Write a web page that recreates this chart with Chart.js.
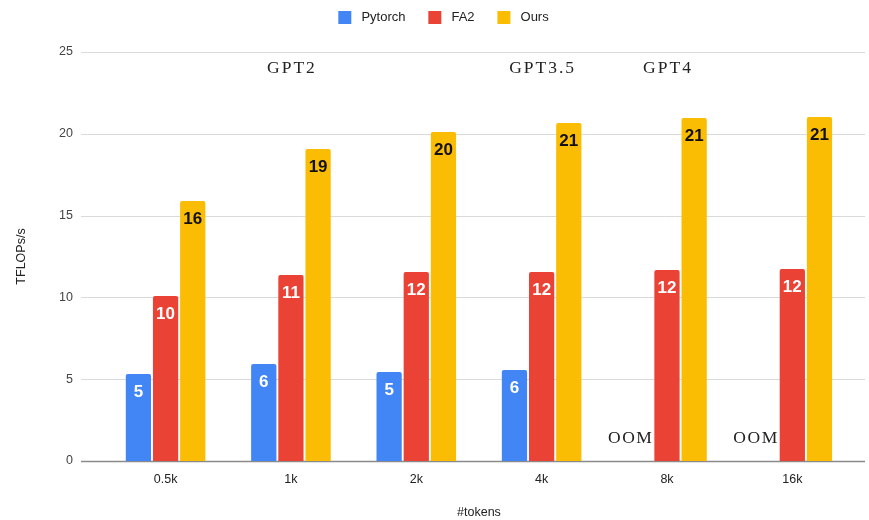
<!DOCTYPE html>
<html>
<head>
<meta charset="utf-8">
<script src="https://cdn.jsdelivr.net/npm/chart.js@4/dist/chart.umd.min.js"></script>
<style>
  html, body { margin: 0; padding: 0; background: #ffffff; }
  #wrap { width: 869px; height: 520px; position: relative; }
</style>
</head>
<body>
<div id="wrap"><canvas id="c" width="869" height="520"></canvas></div>
<script>
// Sequence lengths on the x axis
const tokenLabels = ["0.5k", "1k", "2k", "4k", "8k", "16k"];
// Throughput in TFLOPs/s (null = out of memory)
const pytorchValues = [5.32, 5.93, 5.44, 5.56, null, null];
const fa2Values = [10.09, 11.37, 11.55, 11.55, 11.67, 11.74];
const oursValues = [15.89, 19.07, 20.11, 20.66, 20.97, 21.03];
// Model context-size markers placed above the groups
const modelMarks = ["", "GPT2", "", "GPT3.5", "GPT4", ""];
const modelMarkLevel = 24;
// Out-of-memory marker, written where a Pytorch bar is missing
const oomText = "OOM";
const oomLevel = 1.4;
const yTicks = [0, 5, 10, 15, 20, 25];

const SANS = "'Liberation Sans', Arial, sans-serif";
const SERIF = "'Liberation Serif', 'DejaVu Serif', serif";
const GRID_LEFT = 81, GRID_RIGHT = 865;
const LEGEND_GAP = 18;
const LEGEND_SHIFT = 9;

// Extra space under the legend, and a small horizontal nudge of the legend row
const legendGapPlugin = {
  id: 'legendGap',
  beforeLayout(chart) {
    const lg = chart.legend;
    if (!lg || lg._gapWrapped) return;
    const fit = lg.fit;
    lg.fit = function () { fit.call(this); this.height += LEGEND_GAP; };
    lg._gapWrapped = true;
  },
  afterLayout(chart) {
    const lg = chart.legend;
    if (!lg) return;
    lg.left += LEGEND_SHIFT;
    lg.right += LEGEND_SHIFT;
  }
};

// Horizontal gridlines that run past the plot area into the tick column
const gridPlugin = {
  id: 'wideGrid',
  beforeDatasetsDraw(chart) {
    const ctx = chart.ctx, y = chart.scales.y;
    ctx.save();
    y.ticks.forEach(t => {
      const py = Math.round(y.getPixelForValue(t.value)) + 0.5;
      ctx.strokeStyle = t.value === 0 ? '#8a8a8a' : '#dadada';
      ctx.lineWidth = t.value === 0 ? 1.5 : 1;
      ctx.beginPath();
      ctx.moveTo(GRID_LEFT, py);
      ctx.lineTo(GRID_RIGHT, py);
      ctx.stroke();
    });
    ctx.restore();
  }
};

// Value labels inside bar tops, plus GPT / OOM annotations
const labelPlugin = {
  id: 'barLabels',
  afterDatasetsDraw(chart) {
    const ctx = chart.ctx, y = chart.scales.y, x = chart.scales.x;
    ctx.save();
    ctx.textAlign = 'center';
    ctx.textBaseline = 'middle';
    chart.data.datasets.forEach((ds, di) => {
      const meta = chart.getDatasetMeta(di);
      meta.data.forEach((bar, i) => {
        const v = ds.data[i];
        if (v === null || v === undefined) return;
        ctx.font = 'bold 17px ' + SANS;
        ctx.fillStyle = di === 2 ? '#111111' : '#ffffff';
        ctx.fillText(String(Math.round(v)), bar.x, bar.y + 18);
      });
    });
    // model names
    ctx.font = '17.5px ' + SERIF;
    ctx.letterSpacing = '2px';
    ctx.fillStyle = '#222222';
    modelMarks.forEach((name, i) => {
      if (!name) return;
      ctx.fillText(name, x.getPixelForValue(i) + 1, y.getPixelForValue(modelMarkLevel));
    });
    // OOM markers
    ctx.letterSpacing = '1.5px';
    const fa2Meta = chart.getDatasetMeta(1);
    ctx.textAlign = 'right';
    pytorchValues.forEach((v, i) => {
      if (v !== null) return;
      const b = fa2Meta.data[i];
      ctx.fillText(oomText, b.x - b.width / 2 - 1, y.getPixelForValue(oomLevel));
    });
    ctx.restore();
  }
};

new Chart(document.getElementById('c'), {
  type: 'bar',
  data: {
    labels: tokenLabels,
    datasets: [
      { label: 'Pytorch', data: pytorchValues, backgroundColor: '#4285F4' },
      { label: 'FA2', data: fa2Values, backgroundColor: '#EA4335' },
      { label: 'Ours', data: oursValues, backgroundColor: '#FBBC04' }
    ]
  },
  options: {
    responsive: false,
    animation: false,
    devicePixelRatio: 1,
    layout: { padding: { top: -1, right: 14, bottom: 0, left: 14 } },
    datasets: {
      bar: {
        categoryPercentage: 0.65,
        barPercentage: 0.93,
        borderRadius: { topLeft: 2, topRight: 2 },
        borderSkipped: 'bottom'
      }
    },
    plugins: {
      legend: {
        position: 'top',
        labels: {
          boxWidth: 13, boxHeight: 13, padding: 12,
          color: '#222222',
          font: { family: SANS, size: 13 },
          generateLabels(chart) {
            const items = Chart.defaults.plugins.legend.labels.generateLabels(chart);
            const last = items.length - 1;
            items.forEach((it, i) => {
              it.text = ' ' + it.text + (i < last ? '   ' : '');
              it.lineWidth = 0;
            });
            return items;
          }
        }
      },
      tooltip: { enabled: false }
    },
    scales: {
      x: {
        grid: { display: false, drawTicks: false },
        border: { display: false },
        ticks: { color: '#222222', font: { family: SANS, size: 12.5 }, padding: 11 },
        title: { display: true, text: '#tokens', color: '#222222',
                 font: { family: SANS, size: 12.5 }, padding: { top: 7, bottom: 0 } }
      },
      y: {
        min: 0, max: 25,
        afterBuildTicks(scale) { scale.ticks = yTicks.map(v => ({ value: v })); },
        grid: { display: false, drawTicks: false },
        border: { display: false },
        ticks: { color: '#444444', font: { family: SANS, size: 12.5 }, padding: 30 },
        title: { display: true, text: 'TFLOPs/s', color: '#222222',
                 font: { family: SANS, size: 12.5 }, padding: { top: 0, bottom: 0 } }
      }
    }
  },
  plugins: [legendGapPlugin, gridPlugin, labelPlugin]
});
</script>
</body>
</html>
